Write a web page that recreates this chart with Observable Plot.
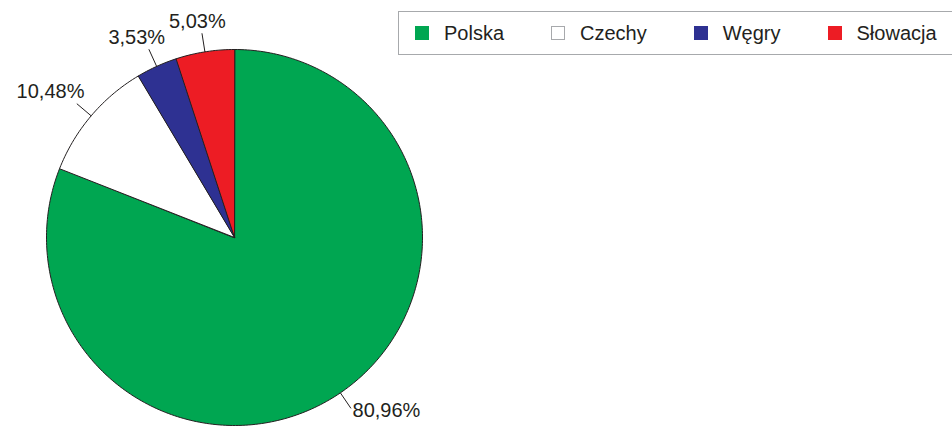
<!DOCTYPE html>
<html><head><meta charset="utf-8">
<script src="https://cdn.jsdelivr.net/npm/d3@7"></script>
<script src="https://cdn.jsdelivr.net/npm/@observablehq/plot@0.6"></script>
<style>
body{margin:0;background:#fff;overflow:hidden;font-family:"Liberation Sans",Arial,sans-serif;}
#wrap{position:relative;width:952px;height:426px;overflow:hidden;}
#wrap svg{position:absolute;left:0;top:0;}
#legend{position:absolute;left:398px;top:11px;width:600px;height:44px;border:1px solid #a7a9ac;background:#fff;box-sizing:border-box;display:flex;align-items:center;padding-left:16px;}
.item{display:flex;align-items:center;margin-right:47px;}
.sw{width:14px;height:14px;box-sizing:border-box;margin-right:15px;}
.lb{font-size:20px;line-height:20px;color:#231f20;white-space:nowrap;}
</style></head><body><div id="wrap"></div>
<script>
const countries = ["Polska", "Czechy", "Węgry", "Słowacja"];
const shares = [80.96, 10.48, 3.53, 5.03];
const colors = ["#00a651", "#ffffff", "#2e3192", "#ed1c24"];

const R = 188, CX = 234, CY = 237;
const total = d3.sum(shares);
const rad = d => d * Math.PI / 180;
let acc = 0;
const slices = countries.map((name, i) => {
  const a0 = acc / total * 360; acc += shares[i]; const a1 = acc / total * 360;
  return {name, value: shares[i], a0, a1, mid: (a0 + a1) / 2};
});
const poly = slices.flatMap(s => {
  const n = Math.max(2, Math.ceil(s.a1 - s.a0));
  const pts = [{name: s.name, x: 0, y: 0}];
  for (let k = 0; k <= n; k++) {
    const a = rad(s.a0 + (s.a1 - s.a0) * k / n);
    pts.push({name: s.name, x: Math.sin(a), y: Math.cos(a)});
  }
  return pts;
});
const fmt = v => v.toFixed(2).replace(".", ",") + "%";
const labels = slices.map(s => {
  const a = rad(s.mid), sx = Math.sin(a), cy = Math.cos(a);
  const t = fmt(s.value), w = t.length * 10.5;
  const upper = cy > 0;
  return {
    text: t,
    x1: sx, y1: cy, x2: 1.1 * sx, y2: 1.1 * cy,
    lx: upper ? 1.1 * sx + sx * (w / 2 + 3) / R : 1.1 * sx + (Math.sign(sx) * (w / 2 + 4)) / R,
    ly: upper ? 1.1 * cy + 12 / R : 1.1 * cy - 2 / R
  };
});

const chart = Plot.plot({
  width: 952, height: 426, margin: 0,
  x: {domain: [-1, 1], range: [CX - R, CX + R], axis: null},
  y: {domain: [-1, 1], range: [CY + R, CY - R], axis: null},
  color: {domain: countries, range: colors},
  style: {fontFamily: '"Liberation Sans", Arial, sans-serif', color: "#231f20", background: "transparent"},
  marks: [
    Plot.line(poly, {x: "x", y: "y", z: "name", fill: "name", stroke: "#231f20", strokeWidth: 1, curve: "linear-closed"}),
    Plot.link(labels, {x1: "x1", y1: "y1", x2: "x2", y2: "y2", stroke: "#231f20", strokeWidth: 1}),
    Plot.text(labels, {x: "lx", y: "ly", text: "text", fontSize: 20, fill: "#231f20", textAnchor: "middle", lineAnchor: "middle"})
  ]
});
const wrap = document.getElementById("wrap");
wrap.appendChild(chart);
const legend = document.createElement("div");
legend.id = "legend";
countries.forEach((c, i) => {
  const it = document.createElement("div"); it.className = "item";
  const sw = document.createElement("div"); sw.className = "sw";
  sw.style.background = colors[i];
  sw.style.border = "1px solid " + (colors[i] === "#ffffff" ? "#a7a9ac" : colors[i]);
  const lb = document.createElement("span"); lb.className = "lb"; lb.textContent = c;
  it.appendChild(sw); it.appendChild(lb); legend.appendChild(it);
});
wrap.appendChild(legend);
</script></body></html>
